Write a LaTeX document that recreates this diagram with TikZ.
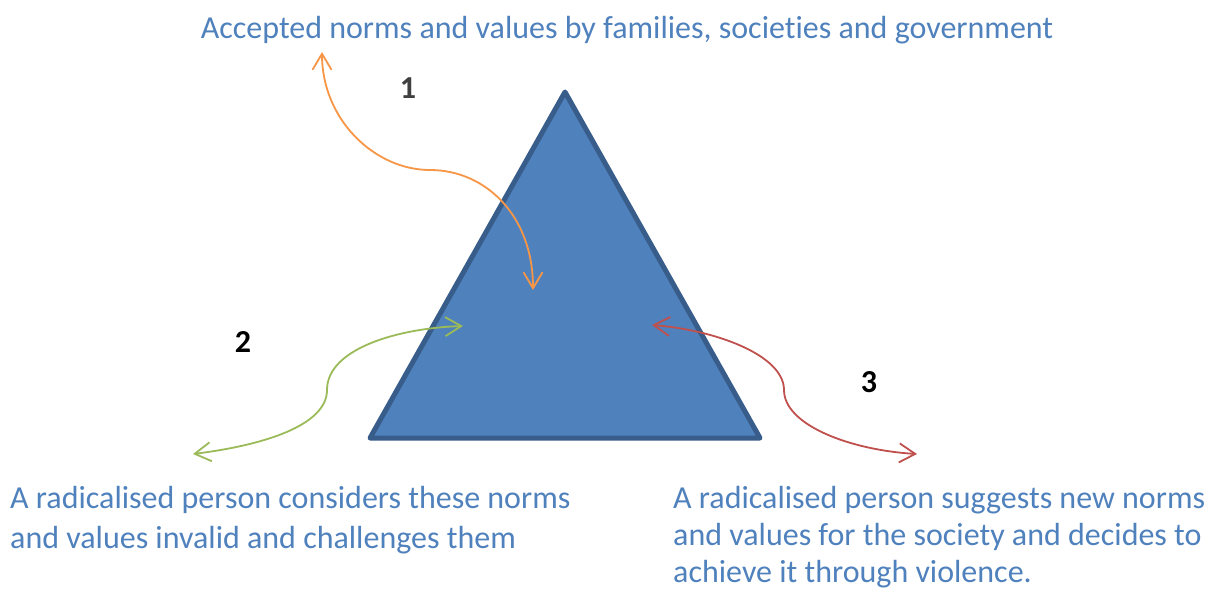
\documentclass[tikz,border=0pt]{standalone}
\usepackage{fontspec}
\setmainfont{Carlito}[Ligatures=NoCommon]
\usetikzlibrary{arrows.meta}
\definecolor{txtblue}{HTML}{4F81BD}
\definecolor{trifill}{HTML}{4F81BD}
\definecolor{triedge}{HTML}{385D8A}
\definecolor{aorange}{HTML}{F79646}
\definecolor{agreen}{HTML}{9BBB59}
\definecolor{ared}{HTML}{C0504D}
\definecolor{numgray}{HTML}{404040}
\begin{document}
\begin{tikzpicture}[x=1pt,y=-1pt,
  lbl/.style={font=\fontsize{32}{40}\selectfont, text=txtblue, inner sep=0pt, align=left},
  num/.style={font=\fontsize{32}{36}\selectfont\bfseries, inner sep=0pt},
  conn/.style={line width=1.8pt, {Straight Barb[length=16pt,width=19pt]}-{Straight Barb[length=16pt,width=19pt]}},
]
\useasboundingbox (0,0) rectangle (1209,590);
\fill[white] (0,0) rectangle (1209,590);

% triangle
\coordinate (apex) at (565,92);
\coordinate (bl) at (370,438);
\coordinate (br) at (760,438);
\draw[fill=trifill, draw=triedge, line width=5pt, line join=round] (apex) -- (bl) -- (br) -- cycle;

% texts
\node[lbl, anchor=base] (top) at (627,38) {Accepted norms and values by families, societies and government};
\node[lbl, anchor=base west] (left) at (10,548) {A radicalised person considers these norms\\and values invalid and challenges them};
\node[lbl, anchor=base west, font=\fontsize{32}{37}\selectfont] (right) at (673,582) {A radicalised person suggests new norms\\and values for the society and decides to\\achieve it through violence.};

% numbers
\node[num, text=numgray] (n1) at (408,88) {1};
\node[num, text=black] (n2) at (243,342) {2};
\node[num, text=black] (n3) at (869,382) {3};

% arrow end points
\coordinate (o1) at (322,52);
\coordinate (om) at (430,170);
\coordinate (o2) at (533,290);
\coordinate (g1) at (193,454);
\coordinate (gm) at (327,390);
\coordinate (g2) at (463,326);
\coordinate (r1) at (652,325);
\coordinate (rm) at (784,390);
\coordinate (r2) at (917,454);

\draw[conn, aorange] (o1) .. controls (322,120) and (375,170) .. (om) .. controls (485,170) and (533,215) .. (o2);
\draw[conn, agreen] (g1) .. controls (265,445) and (327,425) .. (gm) .. controls (327,348) and (400,328) .. (g2);
\draw[conn, ared] (r1) .. controls (715,330) and (784,355) .. (rm) .. controls (784,425) and (850,450) .. (r2);
\end{tikzpicture}
\end{document}
